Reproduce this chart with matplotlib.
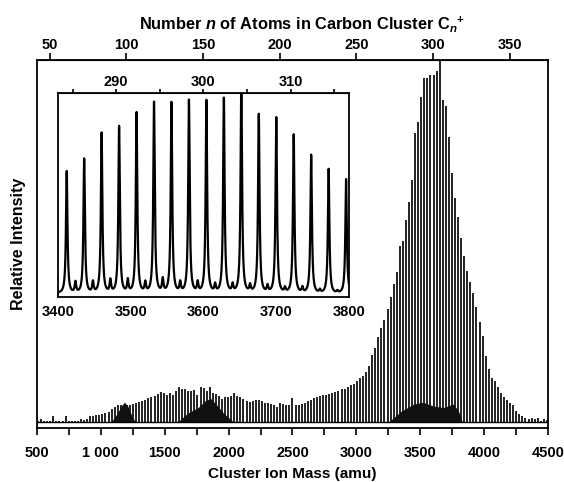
import numpy as np
import matplotlib
matplotlib.use("Agg")
import matplotlib.pyplot as plt

plt.rcParams['font.family'] = ['Liberation Sans', 'DejaVu Sans']
plt.rcParams['font.weight'] = 'bold'
plt.rcParams['mathtext.fontset'] = 'custom'
plt.rcParams['mathtext.rm'] = 'Liberation Sans:bold'
plt.rcParams['mathtext.it'] = 'Liberation Sans:italic:bold'

# even-numbered clusters C_n+, n = 42 ... 374
n_even = np.arange(42, 376, 2)
h_even = [
    0.006, 0.012, 0.006, 0.006, 0.008, 0.022, 0.006, 0.006, 0.008, 0.020,
    0.006, 0.006, 0.006, 0.008, 0.012, 0.010, 0.012, 0.020, 0.022, 0.025,
    0.025, 0.027, 0.030, 0.033, 0.040, 0.045, 0.050, 0.050, 0.052, 0.050,
    0.052, 0.055, 0.057, 0.060, 0.062, 0.064, 0.070, 0.073, 0.075, 0.082,
    0.088, 0.084, 0.080, 0.084, 0.078, 0.090, 0.100, 0.096, 0.094, 0.090,
    0.090, 0.093, 0.080, 0.102, 0.098, 0.090, 0.100, 0.085, 0.082, 0.075,
    0.068, 0.072, 0.072, 0.077, 0.083, 0.077, 0.072, 0.068, 0.063, 0.059,
    0.063, 0.065, 0.065, 0.063, 0.056, 0.056, 0.054, 0.052, 0.045, 0.057,
    0.054, 0.050, 0.050, 0.070, 0.052, 0.052, 0.054, 0.058, 0.061, 0.066,
    0.070, 0.074, 0.076, 0.078, 0.080, 0.082, 0.084, 0.087, 0.091, 0.095,
    0.095, 0.100, 0.106, 0.110, 0.118, 0.127, 0.132, 0.142, 0.158, 0.190,
    0.207, 0.239, 0.262, 0.285, 0.316, 0.348, 0.384, 0.416, 0.489, 0.503,
    0.560, 0.610, 0.670, 0.800, 0.830, 0.900, 0.950, 0.950, 0.960, 0.960,
    0.970, 1.050, 0.890, 0.875, 0.790, 0.690, 0.620, 0.570, 0.510, 0.460,
    0.420, 0.390, 0.360, 0.320, 0.280, 0.240, 0.186, 0.150, 0.127, 0.118,
    0.100, 0.085, 0.072, 0.065, 0.058, 0.050, 0.036, 0.027, 0.020, 0.015,
    0.012, 0.015, 0.012, 0.015, 0.008, 0.012, 0.010,
]
# small odd-numbered peaks seen in the inset (n = 285 ... 315)
n_odd = np.arange(285, 317, 2)
h_odd = [0.055, 0.055, 0.063, 0.063, 0.050, 0.066, 0.050, 0.050,
         0.039, 0.039, 0.036, 0.034, 0.024, 0.027, 0.016, 0.011]

# dark unresolved humps under the peaks
hump1_mass = [1080, 1130, 1160, 1185, 1210, 1240, 1270]
hump1_level = [0.0, 0.025, 0.045, 0.055, 0.045, 0.020, 0.0]
hump2_mass = [1600, 1680, 1760, 1820, 1860, 1900, 1960, 2040]
hump2_level = [0.0, 0.025, 0.040, 0.060, 0.065, 0.050, 0.025, 0.0]
hump3_mass = [3250, 3350, 3450, 3520, 3600, 3680, 3760, 3800, 3830]
hump3_level = [0.0, 0.030, 0.050, 0.055, 0.045, 0.040, 0.050, 0.030, 0.0]

mass_offset = 4  # calibration shift of the recorded peaks
mass_even = 12 * n_even + mass_offset
mass_odd = 12 * n_odd + mass_offset

fig = plt.figure(figsize=(5.64, 4.82), dpi=100)
ax = fig.add_axes([0.0656, 0.112, 0.906, 0.763])

ax.vlines(mass_even, 0.004, h_even, color='#111111', lw=1.3)
for hm, hl in [(hump1_mass, hump1_level), (hump2_mass, hump2_level), (hump3_mass, hump3_level)]:
    ax.fill_between(hm, 0.004, np.array(hl) + 0.004, color='#111111', lw=0)
ax.axhline(0.004, color='black', lw=1.0)

ax.set_xlim(500, 4500)
ax.set_ylim(-0.012, 1.0)
ax.set_yticks([])
ax.set_xticks(range(500, 4501, 500))
ax.set_xticklabels([str(v) if v != 1000 else '1 000' for v in range(500, 4501, 500)])
ax.set_xticks(range(750, 4500, 500), minor=True)
ax.tick_params(axis='x', which='both', direction='out', length=5, width=1.2, labelsize=10.5, pad=8)
for s in ax.spines.values():
    s.set_linewidth(1.3)
ax.set_xlabel('Cluster Ion Mass (amu)', fontsize=11, fontweight='bold', labelpad=5)
ax.set_ylabel('Relative Intensity', fontsize=11.5, fontweight='bold', labelpad=8)

top = ax.secondary_xaxis('top', functions=(lambda m: m / 12, lambda n: n * 12))
top.set_xticks(range(50, 351, 50))
top.tick_params(direction='out', length=5, width=1.2, labelsize=10.5, pad=1)
fig.text(0.536, 0.951, 'Number $n$ of Atoms in Carbon Cluster C$_{n}$$^{+}$',
         ha='center', va='center', fontsize=11.8, fontweight='bold')

# inset: expanded view 3400-3800 amu
ins = fig.add_axes([0.1028, 0.3838, 0.516, 0.423])
grid = np.linspace(3390, 3810, 4000)
gamma = 1.2
profile = np.zeros_like(grid)
for m0, h0 in zip(mass_even, h_even):
    profile += h0 * gamma**2 / ((grid - m0) ** 2 + gamma**2)
for m0, h0 in zip(mass_odd, h_odd):
    profile += h0 * gamma**2 / ((grid - m0) ** 2 + gamma**2)
ins.plot(grid, profile, color='black', lw=1.6)
ins.set_xlim(3400, 3800)
ins.set_ylim(-0.01, 1.0)
ins.set_yticks([])
ins.set_xticks(range(3400, 3801, 100))
ins.tick_params(axis='x', length=0, labelsize=10.5, pad=6)
for s in ins.spines.values():
    s.set_linewidth(1.3)
itop = ins.secondary_xaxis('top', functions=(lambda m: m / 12, lambda n: n * 12))
itop.set_xticks(range(285, 316, 5))
itop.set_xticklabels(['' if v % 10 else str(v) for v in range(285, 316, 5)])
itop.tick_params(direction='out', length=3, width=1.2, labelsize=10.5, pad=0)

fig.savefig('out.png', dpi=100)
